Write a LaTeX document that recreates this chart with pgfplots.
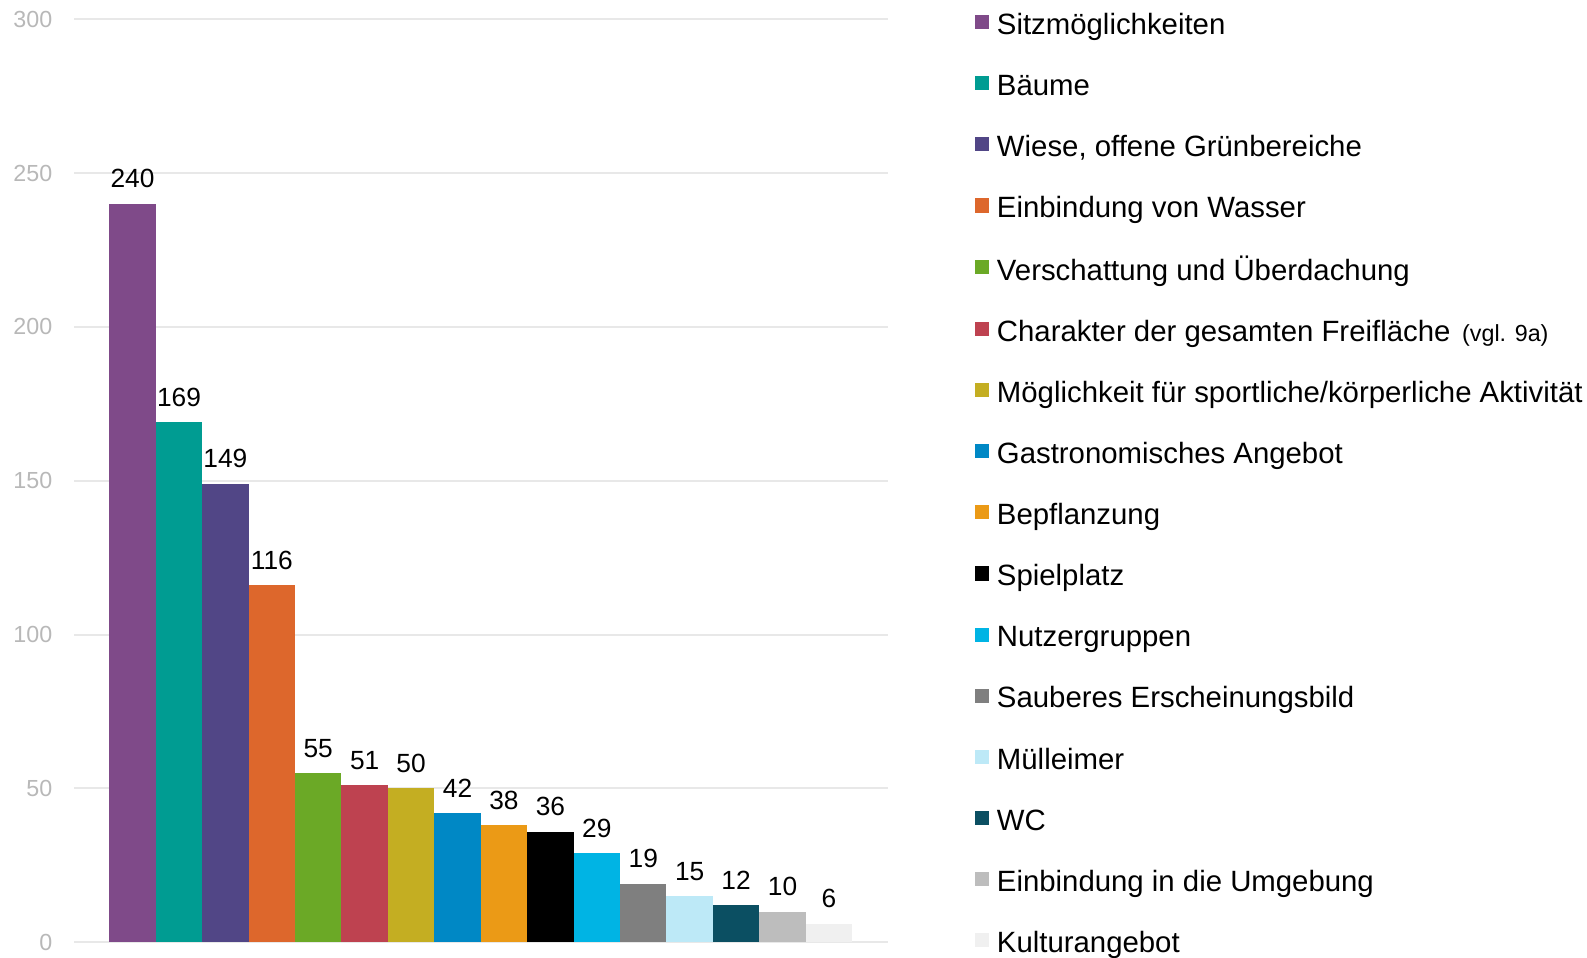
\documentclass[border=0pt]{standalone}
\usepackage{pgfplots}
\pgfplotsset{compat=1.18}
\usepackage{fontspec}
\setmainfont{Liberation Sans}
\definecolor{c1}{HTML}{7F4A89}
\definecolor{c2}{HTML}{009C92}
\definecolor{c3}{HTML}{514686}
\definecolor{c4}{HTML}{DD672C}
\definecolor{c5}{HTML}{6BA926}
\definecolor{c6}{HTML}{BE4250}
\definecolor{c7}{HTML}{C4AE22}
\definecolor{c8}{HTML}{0088C5}
\definecolor{c9}{HTML}{EB9A16}
\definecolor{c10}{HTML}{000000}
\definecolor{c11}{HTML}{00B4E4}
\definecolor{c12}{HTML}{7F7F7F}
\definecolor{c13}{HTML}{BDE9F7}
\definecolor{c14}{HTML}{0B4F62}
\definecolor{c15}{HTML}{BDBDBD}
\definecolor{c16}{HTML}{F0F0F0}
\definecolor{gridc}{HTML}{E8E8E8}
\definecolor{tickc}{HTML}{B8B8B8}
\newcommand\ls{\rule[-3.5pt]{0pt}{15pt}}
\begin{document}
\begin{tikzpicture}
\begin{axis}[
  at={(0,0)}, anchor=south west,
  scale only axis,
  width=402pt, height=456pt,
  xmin=-1.263, xmax=16.263,
  ymin=0, ymax=300,
  ytick={0,50,100,150,200,250,300},
  xtick=\empty,
  axis line style={draw=none},
  major tick length=0pt,
  ymajorgrids,
  grid style={gridc, line width=1pt},
  /pgf/number format/assume math mode=true,
  yticklabel style={font=\fontsize{11.5}{13}\selectfont, text=tickc, inner sep=0pt, xshift=-10.5pt},
  nodes near coords,
  every node near coord/.append style={font=\fontsize{13}{15}\selectfont, text=black, inner sep=0pt, yshift=7.5pt},
  legend cell align=left,
  legend style={at={(1.107,1.009)}, anchor=north west, draw=none, fill=none, inner sep=0pt, outer sep=0pt,
    font=\fontsize{14.5}{17}\selectfont, nodes={inner sep=0pt}, row sep=17.2pt, column sep=4pt},
  legend image code/.code={\fill[#1] (0pt,-2.5pt) rectangle (7pt,4.5pt);},
  every axis plot/.append style={ybar, bar width=1, bar shift=0pt, draw=none},
]
\addplot[fill=c1] coordinates {(0,240)}; \addlegendentry{\ls Sitzmöglichkeiten}
\addplot[fill=c2] coordinates {(1,169)}; \addlegendentry{\ls Bäume}
\addplot[fill=c3] coordinates {(2,149)}; \addlegendentry{\ls Wiese, offene Grünbereiche}
\addplot[fill=c4] coordinates {(3,116)}; \addlegendentry{\ls Einbindung von Wasser}
\addplot[fill=c5] coordinates {(4,55)}; \addlegendentry{\ls Verschattung und Überdachung}
\addplot[fill=c6] coordinates {(5,51)}; \addlegendentry{\ls Charakter der gesamten Freifläche\hspace{0.4em}{\fontsize{11.5}{13}\selectfont (vgl. 9a)}}
\addplot[fill=c7] coordinates {(6,50)}; \addlegendentry{\ls Möglichkeit für sportliche/körperliche Aktivität}
\addplot[fill=c8] coordinates {(7,42)}; \addlegendentry{\ls Gastronomisches Angebot}
\addplot[fill=c9] coordinates {(8,38)}; \addlegendentry{\ls Bepflanzung}
\addplot[fill=c10] coordinates {(9,36)}; \addlegendentry{\ls Spielplatz}
\addplot[fill=c11] coordinates {(10,29)}; \addlegendentry{\ls Nutzergruppen}
\addplot[fill=c12] coordinates {(11,19)}; \addlegendentry{\ls Sauberes Erscheinungsbild}
\addplot[fill=c13] coordinates {(12,15)}; \addlegendentry{\ls Mülleimer}
\addplot[fill=c14] coordinates {(13,12)}; \addlegendentry{\ls WC}
\addplot[fill=c15] coordinates {(14,10)}; \addlegendentry{\ls Einbindung in die Umgebung}
\addplot[fill=c16] coordinates {(15,6)}; \addlegendentry{\ls Kulturangebot}
\end{axis}
\pgfresetboundingbox
\path (-36.5pt,-7.5pt) rectangle (747.5pt,465.5pt);
\end{tikzpicture}
\end{document}
